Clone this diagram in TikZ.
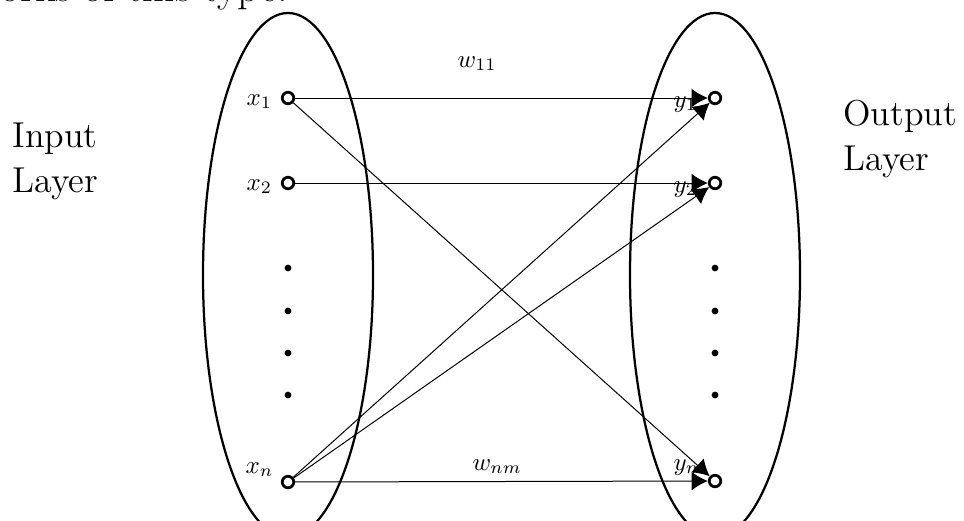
\documentclass[tikz,border=0pt]{standalone}
\usetikzlibrary{arrows.meta}
\begin{document}
\begin{tikzpicture}[x=0.4pt,y=-0.4pt,
  unit/.style={circle,draw,line width=1.1pt,minimum size=4.6pt,inner sep=0pt,fill=white},
  dotmark/.style={circle,fill,minimum size=2.7pt,inner sep=0pt},
  lbl/.style={anchor=base west,inner sep=0pt},
  layername/.style={anchor=base west,inner sep=0pt,align=left,font=\fontsize{14.4}{18}\selectfont},
  conn/.style={-{Latex[length=6.5pt,width=7.4pt]},line width=0.4pt},
  group/.style={line width=0.9pt}]
\useasboundingbox (0,0) rectangle (964,520);

% running text of the page above the figure
\node[anchor=base west,inner sep=0pt,font=\fontsize{17}{21}\selectfont] (runtext) at (0,1) {orks of this type.};

% the two layers
\draw[group] (288,275) ellipse [x radius=34pt, y radius=104.8pt];
\draw[group] (715,275) ellipse [x radius=34pt, y radius=104.8pt];

% layer names (base = baseline of the last line)
\node[layername] (inlayer) at (12,192) {Input\\Layer};
\node[layername] (outlayer) at (843,170) {Output\\Layer};

% input units
\node[unit] (x1) at (288,98) {};
\node[unit] (x2) at (288,183) {};
\node[unit] (xn) at (288,482) {};
% output units
\node[unit] (y1) at (715,98) {};
\node[unit] (y2) at (715,183) {};
\node[unit] (ym) at (715,481) {};

% vertical ellipsis dots
\foreach \k/\yy in {1/268,2/311,3/353,4/395}{
  \node[dotmark] (ldot\k) at (288,\yy) {};
  \node[dotmark] (rdot\k) at (715,\yy) {};
}

% weighted connections
\draw[conn] (x1) -- (y1);
\draw[conn] (x1) -- (ym);
\draw[conn] (x2) -- (y2);
\draw[conn] (xn) -- (y1);
\draw[conn] (xn) -- (y2);
\draw[conn] (xn) -- (ym);

% unit labels
\node[lbl] (lx1) at (246,105) {$x_1$};
\node[lbl] (lx2) at (246,190) {$x_2$};
\node[lbl] (lxn) at (245,473) {$x_n$};
\node[lbl] (ly1) at (673,107) {$y_1$};
\node[lbl] (ly2) at (673,192) {$y_2$};
\node[lbl] (lym) at (673,470) {$y_m$};

% weight labels
\node[lbl] (w11) at (457,67) {$w_{11}$};
\node[lbl] (wnm) at (472,470) {$w_{nm}$};
\end{tikzpicture}
\end{document}
